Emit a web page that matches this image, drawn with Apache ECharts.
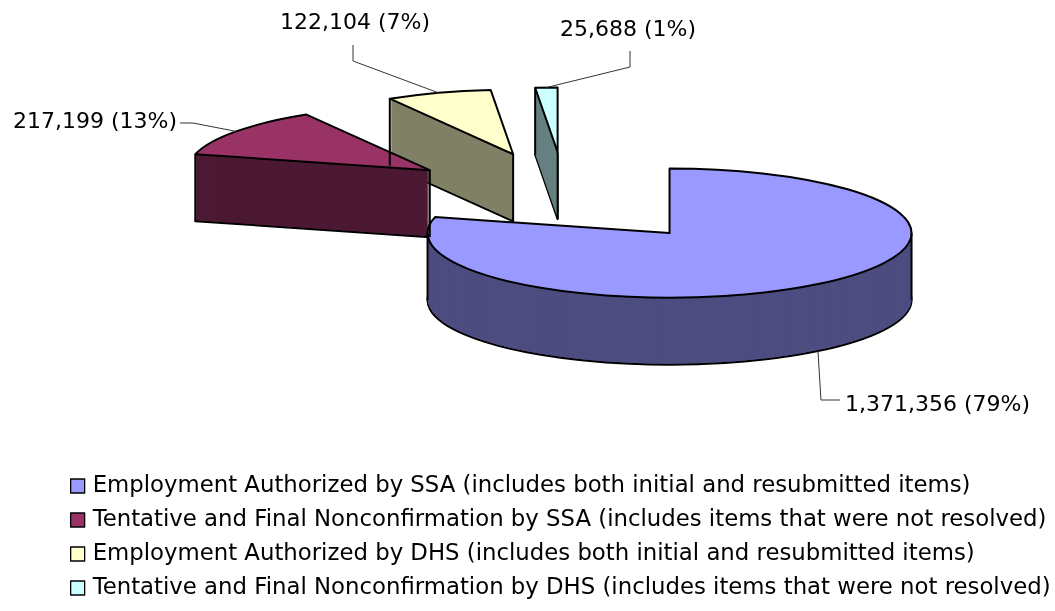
<!DOCTYPE html>
<html>
<head>
<meta charset="utf-8">
<script src="https://cdn.jsdelivr.net/npm/echarts@6/dist/echarts.min.js"></script>
<style>
  html, body { margin: 0; padding: 0; background: #fff; }
  #wrap { position: relative; width: 1055px; height: 611px; overflow: hidden; }
  #a, #b { position: absolute; left: 0; top: 0; width: 1055px; height: 611px; overflow: hidden; }
  #a svg path { vector-effect: non-scaling-stroke; }
</style>
</head>
<body>
<div id="wrap"><div id="a"></div><div id="b"></div></div>
<script>
// ---- data ----
const categories = [
  'Employment Authorized by SSA (includes both initial and resubmitted items)',
  'Tentative and Final Nonconfirmation by SSA (includes items that were not resolved)',
  'Employment Authorized by DHS (includes both initial and resubmitted items)',
  'Tentative and Final Nonconfirmation by DHS (includes items that were not resolved)'
];
const values = [1371356, 217199, 122104, 25688];

// ---- styles / layout ----
const topColors  = ['#9999FF', '#993366', '#FFFFCC', '#CCFFFF'];
const sideColors = ['#4D4D80', '#4C1933', '#808066', '#668080'];
const W = 1055, H = 611;
const S = 0.267;          // vertical squash (tilt)
const CX = 565.5, CY = 197.3, R = 242, EXP = 169.6, DEPTH = 67;
const HU = H / S;
// label anchor positions: [x, y, align]
const labelPos = [[845, 405, 'left'], [177, 122, 'right'], [280, 23, 'left'], [560, 30, 'left']];
// leader-line bends (screen px) from the slice toward its label
const leaderBends = [
  [[null, 400], [840, 400]],
  [[193, 123], [180, 123]],
  [[353, 61], [353, 45]],
  [[630, 67], [630, 51]]
];

function pieLayer(dy, colors, border) {
  return {
    type: 'pie', silent: true, animation: false,
    startAngle: 90, clockwise: true,
    center: [CX, (CY + dy) / S], radius: R,
    selectedMode: 'multiple', selectedOffset: EXP,
    label: { show: false }, labelLine: { show: false },
    emphasis: { disabled: true },
    itemStyle: border ? { borderColor: '#000', borderWidth: 2 } : { borderWidth: 0 },
    data: categories.map((n, i) => ({
      name: n, value: values[i], selected: true,
      itemStyle: { color: colors[i] }
    }))
  };
}

const seriesA = [];
for (let d = DEPTH; d >= 1; d--) seriesA.push(pieLayer(d, sideColors, d === DEPTH));
seriesA.push(pieLayer(0, topColors, true));

const domA = document.getElementById('a');
const chartA = echarts.init(domA, null, { renderer: 'svg', width: W, height: HU });
chartA.setOption({ backgroundColor: 'transparent', animation: false, series: seriesA });

function squash() {
  const svg = domA.querySelector('svg');
  if (!svg) return;
  svg.setAttribute('viewBox', '0 0 ' + W + ' ' + HU);
  svg.setAttribute('preserveAspectRatio', 'none');
  svg.style.width = W + 'px';
  svg.style.height = H + 'px';
}
squash();
chartA.on('finished', squash);

// geometry from the pie layout of the top layer
const topData = chartA.getModel().getSeriesByIndex(seriesA.length - 1).getData();
const graphics = [];
categories.forEach((n, i) => {
  const l = topData.getItemLayout(i);
  const mid = (l.startAngle + l.endAngle) / 2;
  const vx = l.cx + Math.cos(mid) * EXP, vy = l.cy + Math.sin(mid) * EXP;
  // leader line
  let x = vx + Math.cos(mid) * l.r, y = (vy + Math.sin(mid) * l.r) * S;
  if (Math.sin(mid) > 0) y += DEPTH;
  const pts = [[x, y]].concat(leaderBends[i].map(p => [p[0] === null ? x + 3 : p[0], p[1]]));
  graphics.push({
    type: 'polyline', silent: true, z: 10,
    shape: { points: pts },
    style: { stroke: '#333', lineWidth: 1, fill: null }
  });
  // vertical silhouette edges of the slice's extrusion
  const cand = [[vx, vy]];
  const lo = Math.min(l.startAngle, l.endAngle), hi = Math.max(l.startAngle, l.endAngle);
  const angs = [lo, hi];
  for (let k = -4; k <= 4; k++) { const a = k * Math.PI; if (a > lo && a < hi) angs.push(a); }
  angs.forEach(a => cand.push([vx + Math.cos(a) * l.r, vy + Math.sin(a) * l.r]));
  let mn = cand[0], mx = cand[0];
  cand.forEach(p => { if (p[0] < mn[0] - 0.5) mn = p; if (p[0] > mx[0] + 0.5) mx = p; });
  [mn, mx].forEach(p => graphics.push({
    type: 'line', silent: true, z: 5,
    shape: { x1: p[0], y1: p[1] * S, x2: p[0], y2: p[1] * S + DEPTH },
    style: { stroke: '#000', lineWidth: 2 }
  }));
});

const chartB = echarts.init(document.getElementById('b'));
chartB.setOption({
  backgroundColor: 'transparent',
  animation: false,
  legend: {
    orient: 'vertical', left: 70, top: 474, padding: 0,
    itemWidth: 14, itemHeight: 14, itemGap: 10, icon: 'rect',
    selectedMode: false,
    textStyle: { fontFamily: 'DejaVu Sans', fontSize: 22.8, color: '#000', lineHeight: 24, padding: [0, 0, 0, 3] },
    data: categories.map((n, i) => ({
      name: n, itemStyle: { color: topColors[i], borderColor: '#000', borderWidth: 1.3, opacity: 1 }
    }))
  },
  graphic: graphics,
  series: [{
    type: 'pie', silent: true, animation: false,
    center: [CX, CY], radius: 1,
    startAngle: 90, clockwise: true,
    percentPrecision: 0,
    itemStyle: { color: 'rgba(0,0,0,0)' },
    emphasis: { disabled: true },
    label: {
      show: true, position: 'outside',
      fontFamily: 'DejaVu Sans', fontSize: 22, color: '#000',
      formatter: p => echarts.format.addCommas(p.value) + ' (' + p.percent + '%)'
    },
    labelLine: { show: false },
    labelLayout: p => ({
      x: labelPos[p.dataIndex][0], y: labelPos[p.dataIndex][1],
      align: labelPos[p.dataIndex][2], verticalAlign: 'middle', hideOverlap: false, moveOverlap: false
    }),
    data: categories.map((n, i) => ({ name: n, value: values[i] }))
  }]
});
</script>
</body>
</html>
